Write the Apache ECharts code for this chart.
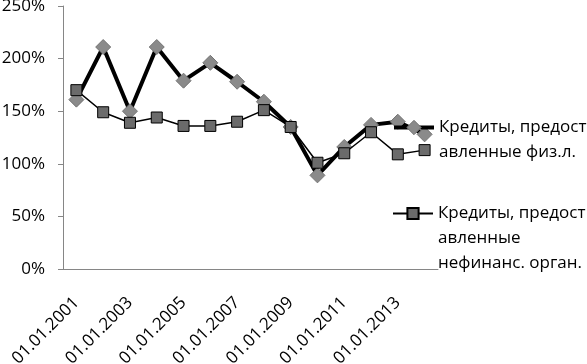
<!DOCTYPE html>
<html>
<head>
<meta charset="utf-8">
<script src="https://cdn.jsdelivr.net/npm/echarts@6/dist/echarts.min.js"></script>
<style>
  html, body { margin: 0; padding: 0; background: #fff; }
  #chart { width: 587px; height: 364px; }
</style>
</head>
<body>
<div id="chart"></div>
<script>
// темпы роста кредитов

var categories = ['01.01.2001', '01.01.2002', '01.01.2003', '01.01.2004', '01.01.2005',
    '01.01.2006', '01.01.2007', '01.01.2008', '01.01.2009', '01.01.2010',
    '01.01.2011', '01.01.2012', '01.01.2013', '01.01.2014'];
var fizData = [161, 211, 150, 211, 179, 196, 178, 159, 135, 89, 116, 137, 140, 128];
var orgData = [170, 149, 139, 144, 136, 136, 140, 151, 135, 101, 110, 130, 109, 113];
var yTicks = [0, 50, 100, 150, 200, 250];

var nameFiz = 'Кредиты, предоставленные физ.л.';
var nameOrg = 'Кредиты, предоставленные нефинанс. орган.';

var fontName = 'Open Sans';
var fontSize = 17;

function initChart() {
    var myChart = echarts.init(document.getElementById('chart'));

    var option = {
        animation: false,
        grid: {
            left: 63,
            right: 149,
            top: 6,
            bottom: 95,
            outerBoundsMode: 'none'
        },
        legend: [
            {
                orient: 'vertical',
                left: 392,
                top: 90,
                padding: 0,
                itemWidth: 40,
                itemHeight: 18,
                data: [nameFiz],
                lineStyle: {
                    width: 4,
                    color: '#000'
                },
                itemStyle: {
                    color: '#8a8a8a',
                    borderColor: '#737373',
                    borderWidth: 1
                },
                // пустая строка сверху, чтобы первая строка стояла напротив значка
                formatter: function () {
                    return ' \nКредиты, предост\nавленные физ.л.';
                },
                textStyle: {
                    fontFamily: fontName,
                    fontSize: fontSize,
                    color: '#000',
                    lineHeight: 25
                }
            },
            {
                orient: 'vertical',
                left: 392,
                top: 151,
                padding: 0,
                itemWidth: 40,
                itemHeight: 14,
                data: [nameOrg],
                formatter: function () {
                    return ' \n \nКредиты, предост\nавленные\nнефинанс. орган.';
                },
                textStyle: {
                    fontFamily: fontName,
                    fontSize: fontSize,
                    color: '#000',
                    lineHeight: 25
                }
            }
        ],
        xAxis: {
            type: 'category',
            data: categories,
            boundaryGap: true,
            axisLine: {
                lineStyle: {
                    color: '#868686'
                }
            },
            axisTick: {
                interval: 1,
                length: 5,
                lineStyle: {
                    color: '#868686'
                }
            },
            axisLabel: {
                interval: 1,
                rotate: 45,
                margin: 31,
                fontFamily: fontName,
                fontSize: fontSize,
                color: '#000'
            }
        },
        yAxis: {
            type: 'value',
            min: yTicks[0],
            max: yTicks[yTicks.length - 1],
            interval: 50,
            splitLine: {
                show: false
            },
            axisLine: {
                show: true,
                lineStyle: {
                    color: '#868686'
                }
            },
            axisTick: {
                show: true,
                length: 5,
                lineStyle: {
                    color: '#868686'
                }
            },
            axisLabel: {
                margin: 18,
                fontFamily: fontName,
                fontSize: fontSize,
                color: '#000',
                formatter: '{value}%'
            }
        },
        series: [
            {
                name: nameFiz,
                type: 'line',
                data: fizData,
                symbol: 'diamond',
                symbolSize: 15,
                z: 2,
                lineStyle: {
                    color: '#000',
                    width: 4
                },
                itemStyle: {
                    color: '#8a8a8a',
                    borderColor: '#737373',
                    borderWidth: 1
                }
            },
            {
                name: nameOrg,
                type: 'line',
                data: orgData,
                symbol: 'rect',
                symbolSize: 11,
                z: 3,
                lineStyle: {
                    color: '#000',
                    width: 1.5
                },
                itemStyle: {
                    color: '#6b6b6b',
                    borderColor: '#000',
                    borderWidth: 1
                }
            }
        ]
    };

    myChart.setOption(option);
}

initChart();
</script>
</body>
</html>
